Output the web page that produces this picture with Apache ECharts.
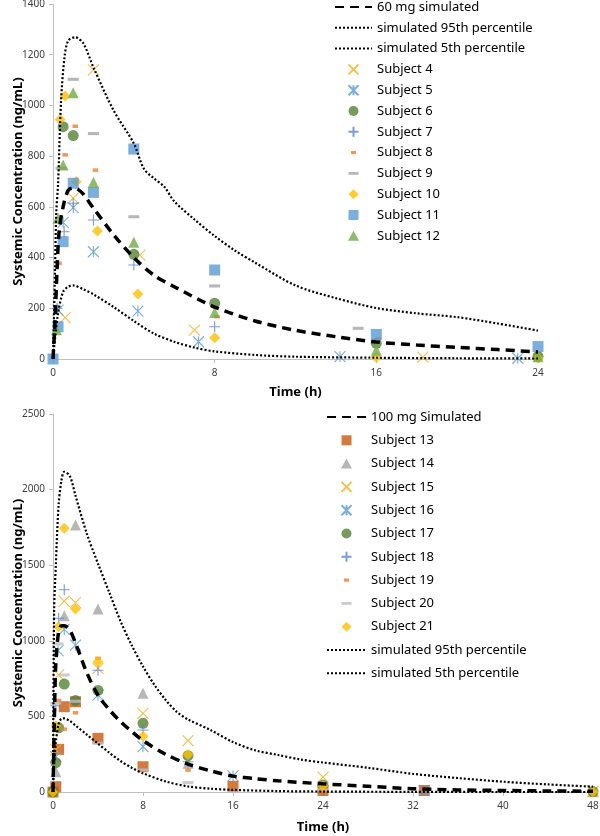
<!DOCTYPE html>
<html>
<head>
<meta charset="utf-8">
<script src="https://cdn.jsdelivr.net/npm/echarts@6/dist/echarts.min.js"></script>
<style>
  html, body { margin: 0; padding: 0; background: #fff; }
  #chart { width: 600px; height: 836px; }
</style>
</head>
<body>
<div id="chart"></div>
<script>
// ---- 60 mg panel: simulated curves (time h, conc ng/mL)
const t60 = [0, 0.1, 0.2, 0.3, 0.5, 0.75, 1, 1.25, 1.5, 2, 3, 4, 5, 6, 8, 10, 12, 14, 16, 18, 20, 22, 24]
const mean60 = [0, 150, 350, 500, 600, 665, 675, 668, 650, 595, 490, 400, 330, 285, 205, 150, 113, 88, 67, 55, 46, 37, 28]
const t60p95 = [0, 0.1, 0.16, 0.25, 0.4, 0.57, 0.75, 1.1, 1.5, 2, 3, 4, 4.5, 5, 5.5, 6, 7, 8, 9, 10, 12, 14, 16, 18, 20, 22, 24]
const p95_60 = [0, 350, 575, 690, 1020, 1190, 1255, 1269, 1245, 1150, 980, 850, 750, 712, 680, 622, 550, 485, 428, 380, 290, 240, 201, 180, 165, 140, 112]
const t60p5 = [0, 0.1, 0.25, 0.5, 0.75, 1, 1.5, 2, 3, 4, 5, 6, 7, 8, 10, 12, 16, 20, 24]
const p5_60 = [0, 80, 180, 265, 285, 290, 275, 255, 205, 150, 100, 68, 45, 30, 16, 9, 5, 3, 2]

// ---- 60 mg panel: observed subjects [time, conc]
const s4 = [[0.6, 163], [1, 634], [2, 1140], [4.3, 410], [7, 114], [18.3, 7]]
const s5 = [[0.25, 193], [0.5, 539], [1, 597], [2, 423], [4.2, 189], [7.2, 68], [14.2, 9], [23, 3]]
const s6 = [[0.5, 916], [1, 881], [4, 413], [8, 220], [16, 62], [24, 10]]
const s7 = [[0.2, 200], [0.55, 502], [1, 614], [2, 548], [4, 371], [8, 127]]
const s8 = [[0.3, 377], [0.6, 805], [1.1, 918], [2.1, 745], [8.1, 167], [16.1, 80], [24.1, 20]]
const s9 = [[0.4, 752], [1, 1103], [2, 889], [4, 561], [8, 288], [15.1, 121]]
const s10 = [[0.35, 945], [0.6, 1037], [1.15, 699], [2.2, 505], [4.2, 256], [8, 84], [16, 7], [24, 3]]
const s11 = [[0, 0], [0.25, 127], [0.5, 463], [1, 693], [2, 657], [4, 828], [8, 351], [16, 97], [24, 49]]
const s12 = [[0.17, 115], [0.25, 555], [0.5, 765], [1, 1050], [2, 697], [4, 460], [8, 183], [16, 35], [24, 9]]

// ---- 100 mg panel: simulated curves
const t100 = [0, 0.1, 0.25, 0.5, 0.75, 1, 1.5, 2, 3, 4, 5, 6, 7, 8, 10, 12, 14, 16, 18, 20, 24, 28, 32, 36, 40, 44, 48]
const mean100 = [0, 400, 850, 1060, 1100, 1100, 1070, 985, 790, 640, 545, 465, 400, 340, 250, 185, 140, 105, 88, 74, 54, 38, 22, 14, 10, 7, 5]
const t100p95 = [0, 0.1, 0.25, 0.5, 0.75, 1, 1.5, 2, 3, 4, 5, 6, 7, 8, 9, 10, 11, 12, 14, 16, 18, 20, 22, 24, 28, 32, 36, 40, 44, 48]
const p95_100 = [0, 1200, 1500, 1900, 2060, 2118, 2090, 1960, 1710, 1510, 1320, 1130, 970, 830, 710, 610, 530, 480, 410, 330, 275, 245, 215, 195, 160, 120, 92, 68, 50, 35]
const t100p5 = [0, 0.1, 0.25, 0.5, 0.75, 1, 1.5, 2, 3, 4, 5, 6, 7, 8, 10, 12, 14, 16, 20, 24, 32, 40, 48]
const p5_100 = [0, 180, 330, 450, 485, 487, 470, 440, 380, 320, 260, 205, 160, 124, 70, 37, 22, 14, 6, 3, 1, 0, 0]

// ---- 100 mg panel: observed subjects
const s13 = [[0, 0], [0.25, 35], [0.5, 282], [1, 564], [2, 597], [4, 355], [8, 167], [16, 38], [24, 10], [33, 10]]
const s14 = [[0.25, 134], [1, 1166], [2, 1766], [4, 1210], [8, 653], [12, 190], [48, 2]]
const s15 = [[0.25, 278], [0.5, 774], [1, 1262], [2, 1252], [4, 818], [8, 520], [12, 340], [24, 98], [48, 5]]
const s16 = [[0.25, 234], [0.45, 935], [1, 1075], [2, 972], [4, 640], [8, 300], [16, 106], [33, 10]]
const s17 = [[0, 0], [0.25, 194], [0.5, 425], [1, 714], [2, 605], [4, 672], [8, 454], [12, 240], [24, 46], [48, 3]]
const s18 = [[0.25, 570], [0.5, 1149], [1, 1338], [4, 805], [8, 410], [12, 200]]
const s19 = [[0.5, 605], [1, 416], [2, 524], [4, 884], [12, 145], [24, 5]]
const s20 = [[0.25, 587], [0.45, 979], [1, 774], [2, 600], [4, 322], [8, 146], [12, 62], [24, 14]]
const s21 = [[0, 0], [0.25, 436], [0.5, 1093], [1, 1744], [2, 1210], [4, 862], [8, 368], [12, 248], [24, 40], [48, 2]]

const FONT = "'Noto Sans', sans-serif"

// marker shapes (Excel style); dashes padded to a square box so legend keeps them small
const SYM = {
  x: 'path://M0,0L10,10M10,0L0,10',
  star: 'path://M0,0L10,10M10,0L0,10M5,0L5,10',
  plus: 'path://M5,0L5,10M0,5L10,5',
  square: 'path://M0,0H10V10H0Z',
  triangle: 'path://M5,0L10,9H0Z',
  diamond: 'path://M5,0L10,5L5,10L0,5Z',
  circle: 'circle',
  dash: 'path://M0,0M10,10M0,3.6H10V6.4H0Z',
  dashShort: 'path://M0,0M10,10M2.5,3.4H7.5V6.6H2.5Z'
}

function curve(name, gi, t, v, dash, width) {
  return {
    type: 'line', name, xAxisIndex: gi, yAxisIndex: gi,
    data: t.map((x, i) => [x, v[i]]),
    symbol: 'none', showSymbol: false, smooth: 0.3, silent: true,
    itemStyle: { color: '#000' },
    lineStyle: { color: '#000', width, type: dash, cap: 'butt' }
  }
}

function subject(name, gi, data, sym, color, size, stroke) {
  return {
    type: 'scatter', name, xAxisIndex: gi, yAxisIndex: gi, data,
    symbol: SYM[sym], symbolSize: size, silent: true,
    itemStyle: stroke
      ? { color: 'rgba(0,0,0,0)', borderColor: color, borderWidth: 1.1 }
      : { color }
  }
}

const DASH = [9, 6]
const DOT = [2, 2]
const DOT_W = 2.2

const series = [
  curve('60 mg simulated', 0, t60, mean60, DASH, 3.5),
  curve('simulated 95th percentile', 0, t60p95, p95_60, DOT, DOT_W),
  curve('simulated 5th percentile', 0, t60p5, p5_60, DOT, DOT_W),
  subject('Subject 4', 0, s4, 'x', '#F2B01E', 11, true),
  subject('Subject 5', 0, s5, 'star', '#5B9BD5', 11, true),
  subject('Subject 6', 0, s6, 'circle', '#548235', 11, false),
  subject('Subject 7', 0, s7, 'plus', '#5A82D0', 11, true),
  subject('Subject 8', 0, s8, 'dashShort', '#ED7D31', 11, false),
  subject('Subject 9', 0, s9, 'dash', '#A5A5A5', 11, false),
  subject('Subject 10', 0, s10, 'diamond', '#FFC000', 11, false),
  subject('Subject 11', 0, s11, 'square', '#5B9BD5', 11, false),
  subject('Subject 12', 0, s12, 'triangle', '#70AD47', 11, false),

  curve('100 mg Simulated', 1, t100, mean100, DASH, 3.5),
  subject('Subject 13', 1, s13, 'square', '#C55A11', 11, false),
  subject('Subject 14', 1, s14, 'triangle', '#A5A5A5', 11, false),
  subject('Subject 15', 1, s15, 'x', '#F2B01E', 11, true),
  subject('Subject 16', 1, s16, 'star', '#5B9BD5', 11, true),
  subject('Subject 17', 1, s17, 'circle', '#548235', 11, false),
  subject('Subject 18', 1, s18, 'plus', '#5A82D0', 11, true),
  subject('Subject 19', 1, s19, 'dashShort', '#ED7D31', 11, false),
  subject('Subject 20', 1, s20, 'dash', '#BFBFBF', 11, false),
  subject('Subject 21', 1, s21, 'diamond', '#FFC000', 11, false),
  curve('simulated 95th percentile', 1, t100p95, p95_100, DOT, DOT_W),
  curve('simulated 5th percentile', 1, t100p5, p5_100, DOT, DOT_W)
]

const axisGray = '#BFBFBF'
const labelStyle = { color: '#404040', fontSize: 10, fontFamily: FONT, formatter: (v) => String(v) }
const nameStyle = { color: '#000', fontSize: 13, fontWeight: 'bold', fontFamily: FONT }

function xAxis(gi, max, gap) {
  return {
    type: 'value', gridIndex: gi, min: 0, max, interval: 8,
    name: 'Time (h)', nameLocation: 'middle', nameGap: gap, nameMoveOverlap: false,
    nameTextStyle: nameStyle,
    axisLine: { onZero: false, lineStyle: { color: axisGray } },
    axisTick: { show: true, length: 4, lineStyle: { color: axisGray } },
    axisLabel: Object.assign({ margin: 9 }, labelStyle),
    splitLine: { show: false }
  }
}
function yAxis(gi, max, interval) {
  return {
    type: 'value', gridIndex: gi, min: 0, max, interval,
    name: 'Systemic Concentration (ng/mL)', nameLocation: 'middle', nameGap: 28,
    nameMoveOverlap: false, nameRotate: 90, nameTextStyle: nameStyle,
    axisLine: { show: true, lineStyle: { color: axisGray } },
    axisTick: { show: true, length: 4, lineStyle: { color: axisGray } },
    axisLabel: Object.assign({ margin: 8 }, labelStyle),
    splitLine: { show: false }
  }
}

const legendText = { fontSize: 13, fontFamily: FONT, color: '#000', lineHeight: 16 }
// line entries: hide the legend symbol, keep the line
const lineItem = (name) => ({ name, itemStyle: { opacity: 0 } })

const option = {
  animation: false,
  backgroundColor: '#fff',
  grid: [
    { left: 53, top: 4, width: 485, height: 355, containLabel: false, outerBoundsMode: 'none' },
    { left: 53, top: 414, width: 540, height: 378, containLabel: false, outerBoundsMode: 'none' }
  ],
  xAxis: [xAxis(0, 24, 27), xAxis(1, 48, 29)],
  yAxis: [yAxis(0, 1400, 200), yAxis(1, 2500, 500)],
  legend: [
    {
      orient: 'vertical', left: 334, top: -1, padding: 0,
      itemWidth: 37, itemHeight: 10, itemGap: 4.8, selectedMode: false,
      textStyle: legendText,
      data: [lineItem('60 mg simulated'), lineItem('simulated 95th percentile'), lineItem('simulated 5th percentile'),
        'Subject 4', 'Subject 5', 'Subject 6', 'Subject 7', 'Subject 8',
        'Subject 9', 'Subject 10', 'Subject 11', 'Subject 12']
    },
    {
      orient: 'vertical', left: 326, top: 409, padding: 0,
      itemWidth: 39, itemHeight: 10, itemGap: 7.3, selectedMode: false,
      textStyle: legendText,
      data: [lineItem('100 mg Simulated'), 'Subject 13', 'Subject 14', 'Subject 15', 'Subject 16',
        'Subject 17', 'Subject 18', 'Subject 19', 'Subject 20', 'Subject 21',
        lineItem('simulated 95th percentile'), lineItem('simulated 5th percentile')]
    }
  ],
  series
}

const chart = echarts.init(document.getElementById('chart'))
chart.setOption(option)
</script>
</body>
</html>
